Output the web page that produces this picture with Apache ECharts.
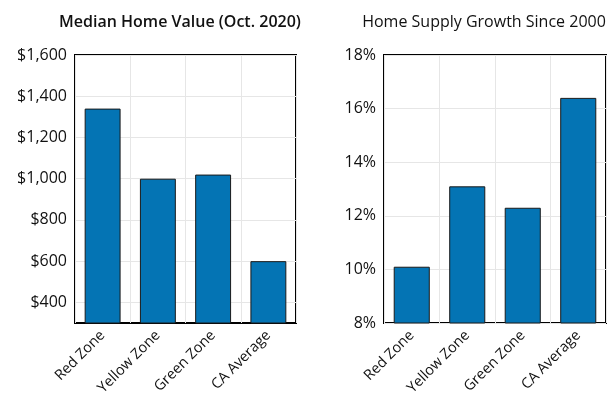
<!DOCTYPE html>
<html>
<head>
<meta charset="utf-8">
<script src="https://cdn.jsdelivr.net/npm/echarts@6/dist/echarts.min.js"></script>
<style>
  html, body { margin: 0; padding: 0; background: #fff; }
  #chart { width: 610px; height: 407px; }
</style>
</head>
<body>
<div id="chart"></div>
<script>
// data
const zones = ['Red Zone', 'Yellow Zone', 'Green Zone', 'CA Average'];
const homeValue = [1340, 1000, 1020, 600];        // thousands of $
const supplyGrowth = [10.1, 13.1, 12.3, 16.4];    // percent
const valueTicks = [400, 600, 800, 1000, 1200, 1400, 1600];

const font = 'Open Sans';
const barColor = '#0474b4';

const chart = echarts.init(document.getElementById('chart'));

function catAxis(gridIndex) {
  return {
    type: 'category',
    gridIndex: gridIndex,
    data: zones,
    axisLine: { show: false },
    axisTick: { show: false },
    splitLine: { show: true, lineStyle: { color: '#e6e6e6', width: 1 } },
    axisLabel: {
      rotate: 45, interval: 0, margin: 10,
      fontFamily: font, fontSize: 14.5, color: '#111'
    }
  };
}

chart.setOption({
  animation: false,
  title: [
    {
      text: 'Median Home Value (Oct. 2020)',
      left: 175, top: 9, textAlign: 'center',
      textStyle: { fontFamily: font, fontSize: 16, fontWeight: 600, color: '#111' }
    },
    {
      text: 'Home Supply Growth Since 2000',
      left: 479, top: 9, textAlign: 'center',
      textStyle: { fontFamily: font, fontSize: 16, fontWeight: 'normal', color: '#111' }
    }
  ],
  grid: [
    { left: 75, right: 314, top: 55, bottom: 84, show: true, borderColor: '#000', borderWidth: 2, backgroundColor: '#fff' },
    { left: 384, right: 4, top: 55, bottom: 84, show: true, borderColor: '#000', borderWidth: 2, backgroundColor: '#fff' }
  ],
  xAxis: [catAxis(0), catAxis(1)],
  yAxis: [
    {
      type: 'value', gridIndex: 0, min: 300, max: 1600,
      axisLine: { show: false },
      axisTick: { show: false, customValues: valueTicks },
      splitLine: { show: true, lineStyle: { color: '#e6e6e6' } },
      axisLabel: {
        customValues: valueTicks,
        fontFamily: font, fontSize: 16, color: '#111', margin: 8,
        formatter: v => '$' + v.toLocaleString('en-US')
      }
    },
    {
      type: 'value', gridIndex: 1, min: 8, max: 18, interval: 2,
      axisLine: { show: false },
      axisTick: { show: false },
      splitLine: { show: true, lineStyle: { color: '#e6e6e6' } },
      axisLabel: {
        fontFamily: font, fontSize: 16, color: '#111', margin: 8,
        formatter: '{value}%'
      }
    }
  ],
  series: [
    {
      type: 'bar', xAxisIndex: 0, yAxisIndex: 0,
      data: homeValue, barWidth: '65%',
      itemStyle: { color: barColor, borderColor: '#1a1a1a', borderWidth: 1 }
    },
    {
      type: 'bar', xAxisIndex: 1, yAxisIndex: 1,
      data: supplyGrowth, barWidth: '65%',
      itemStyle: { color: barColor, borderColor: '#1a1a1a', borderWidth: 1 }
    }
  ]
});
</script>
</body>
</html>
